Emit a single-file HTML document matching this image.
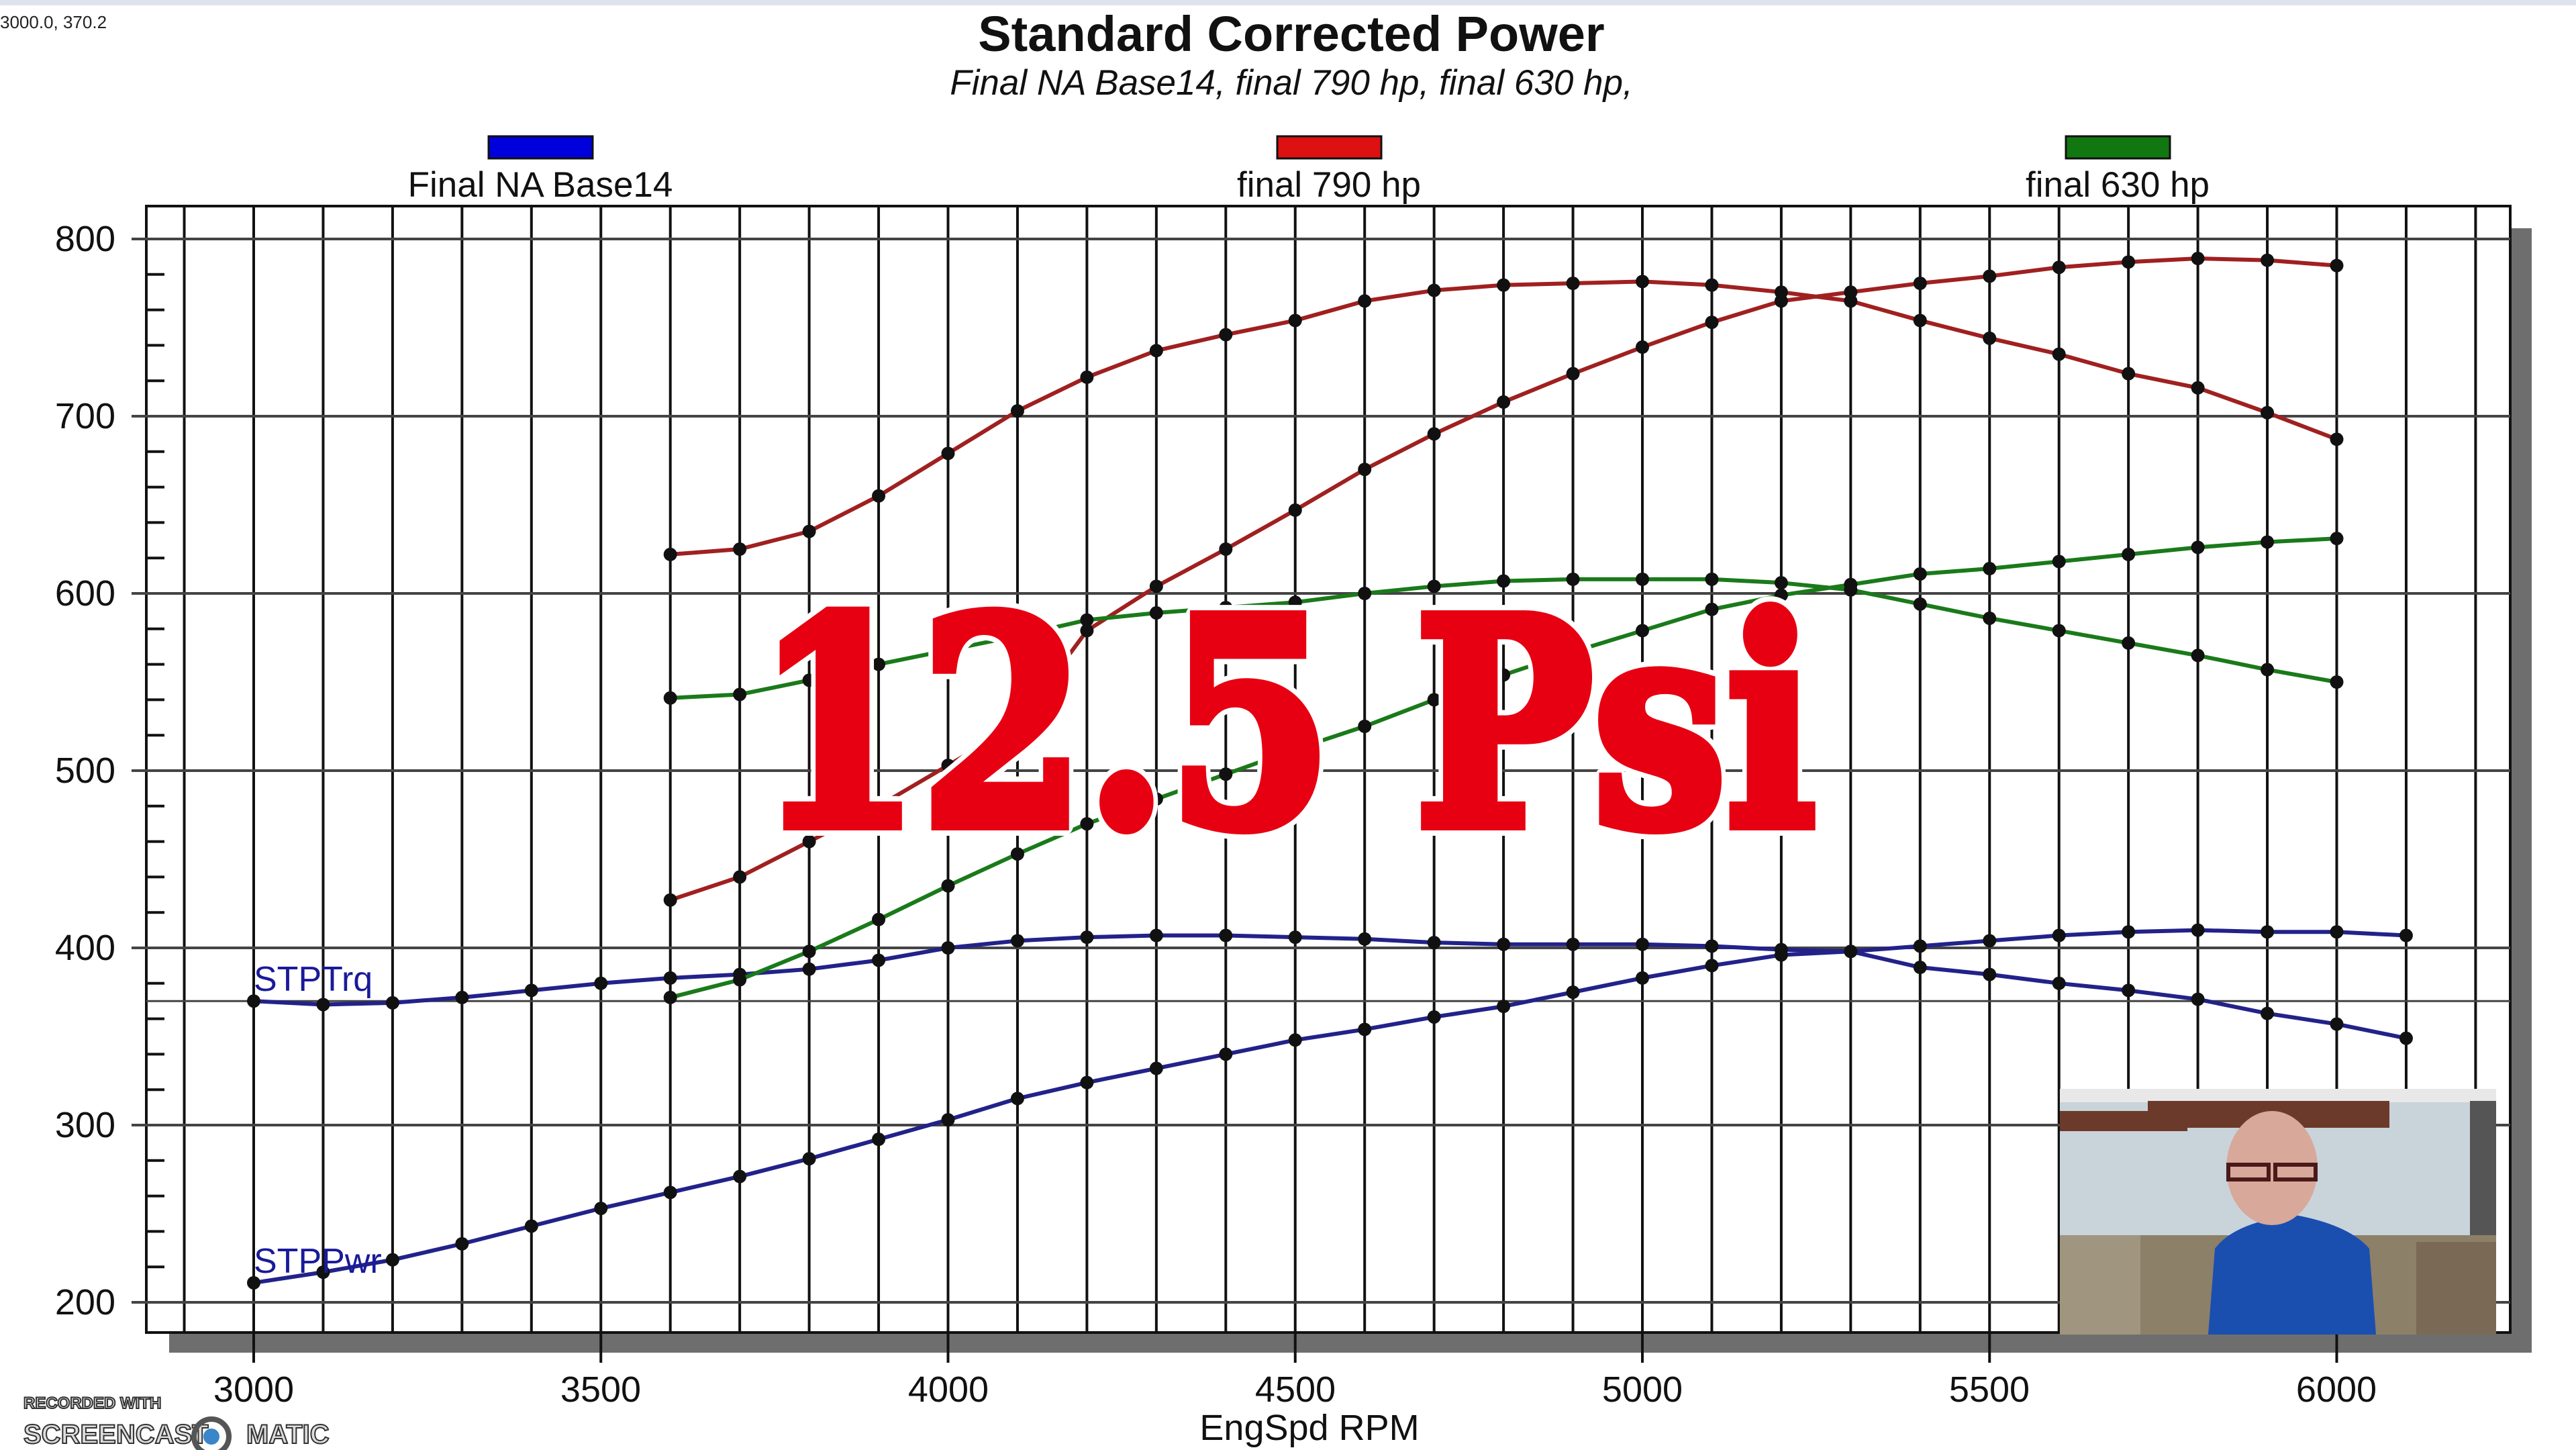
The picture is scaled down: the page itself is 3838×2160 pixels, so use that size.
<!DOCTYPE html>
<html><head><meta charset="utf-8"><style>
html,body{margin:0;padding:0;background:#fff;}
svg{display:block}
</style></head><body>
<svg id="s" width="3838" height="2160" viewBox="0 0 3838 2160" xmlns="http://www.w3.org/2000/svg" font-family="Liberation Sans, sans-serif">
<rect width="3838" height="2160" fill="#fff"/>
<rect x="0" y="0" width="3838" height="8" fill="#dfe3ee"/>
<text x="0" y="42" font-size="26" fill="#222">3000.0, 370.2</text>
<text x="1924" y="76" font-size="74" font-weight="bold" text-anchor="middle" fill="#111">Standard Corrected Power</text>
<text x="1924" y="141" font-size="53" font-style="italic" text-anchor="middle" fill="#111">Final NA Base14, final 790 hp, final 630 hp,</text>
<rect x="728" y="203" width="155" height="33" fill="#0000dd" stroke="#111" stroke-width="3"/>
<rect x="1903" y="203" width="155" height="33" fill="#dd1111" stroke="#111" stroke-width="3"/>
<rect x="3078" y="203" width="155" height="33" fill="#117711" stroke="#111" stroke-width="3"/>
<text x="805" y="293" font-size="53" text-anchor="middle" fill="#111">Final NA Base14</text>
<text x="1980" y="293" font-size="53" text-anchor="middle" fill="#111">final 790 hp</text>
<text x="3155" y="293" font-size="53" text-anchor="middle" fill="#111">final 630 hp</text>
<rect x="252" y="1985" width="3520" height="30" fill="#6e6e6e"/>
<rect x="3740" y="340" width="32" height="1675" fill="#6e6e6e"/>
<rect x="218" y="307" width="3522" height="1678" fill="#fff" stroke="#111" stroke-width="4"/>
<g id="grid" stroke="#111" stroke-width="4"></g>
<g font-size="54" fill="#111" text-anchor="end">
<text x="172" y="374">800</text><text x="172" y="638">700</text><text x="172" y="902">600</text>
<text x="172" y="1166">500</text><text x="172" y="1430">400</text><text x="172" y="1694">300</text><text x="172" y="1958">200</text>
</g>
<g font-size="54" fill="#111" text-anchor="middle">
<text x="378" y="2088">3000</text><text x="895" y="2088">3500</text><text x="1413" y="2088">4000</text>
<text x="1930" y="2088">4500</text><text x="2447" y="2088">5000</text><text x="2964" y="2088">5500</text><text x="3481" y="2088">6000</text>
<text x="1951" y="2145">EngSpd RPM</text>
</g>
<g id="series"></g>
<text x="378" y="1476" font-size="52" fill="#1a1a9a">STPTrq</text>
<text x="378" y="1896" font-size="52" fill="#1a1a9a">STPPwr</text>
<text x="1126" y="1228" font-size="425" font-weight="bold" font-family="DejaVu Serif, serif" fill="#fff" stroke="#fff" stroke-width="34" stroke-linejoin="round" textLength="1580" lengthAdjust="spacingAndGlyphs">12.5 Psi</text>
<text x="1126" y="1228" font-size="425" font-weight="bold" font-family="DejaVu Serif, serif" fill="#e60012" stroke="#e60012" stroke-width="18" stroke-linejoin="miter" textLength="1580" lengthAdjust="spacingAndGlyphs">12.5 Psi</text>
<g>
<rect x="3069" y="1622" width="650" height="366" fill="#c9d3da"/>
<rect x="3069" y="1622" width="650" height="20" fill="#e8e8e8"/>
<rect x="3069" y="1655" width="190" height="30" fill="#6b3a2a"/>
<rect x="3200" y="1640" width="360" height="40" fill="#6b3a2a"/>
<rect x="3680" y="1640" width="39" height="200" fill="#555"/>
<rect x="3069" y="1840" width="650" height="148" fill="#8d8068"/>
<rect x="3069" y="1840" width="120" height="148" fill="#a09680"/>
<rect x="3600" y="1850" width="119" height="138" fill="#7a6a55"/>
<path d="M3290 1988 L3300 1860 Q3330 1820 3420 1810 Q3500 1825 3530 1860 L3540 1988 Z" fill="#1a4fb0"/>
<ellipse cx="3385" cy="1740" rx="68" ry="85" fill="#d8a89a"/>
<rect x="3320" y="1735" width="60" height="22" fill="none" stroke="#4a1a1a" stroke-width="6"/>
<rect x="3390" y="1735" width="60" height="22" fill="none" stroke="#4a1a1a" stroke-width="6"/>
</g>
<g font-family="Liberation Sans, sans-serif" font-weight="bold" fill="#ddd" stroke="#333" stroke-width="2">
<text x="35" y="2098" font-size="24">RECORDED WITH</text>
<text x="35" y="2150" font-size="40">SCREENCAST</text>
<text x="367" y="2150" font-size="40">MATIC</text>
</g>
<circle cx="315" cy="2140" r="26" fill="none" stroke="#555" stroke-width="8"/>
<circle cx="315" cy="2140" r="12" fill="#3a86c8"/>
</svg>
<script>
var NS="http://www.w3.org/2000/svg";
function X(r){return 378+(r-3000)*1.0345;}
function Y(v){return 356+(800-v)*2.64;}
function el(t,a,p){var e=document.createElementNS(NS,t);for(var k in a)e.setAttribute(k,a[k]);p.appendChild(e);return e;}
var g=document.getElementById('grid');
for(var r=2900;r<=6200;r+=100){var x=X(r);el('line',{x1:x,y1:307,x2:x,y2:1985},g);}
for(var r=3000;r<=6000;r+=500){var x=X(r);el('line',{x1:x,y1:1985,x2:x,y2:2030},g);}
for(var v=200;v<=800;v+=100){var y=Y(v);el('line',{x1:196,y1:y,x2:3740,y2:y,stroke:'#444'},g);}
for(var v=200;v<=800;v+=20){if(v%100){var y=Y(v);el('line',{x1:220,y1:y,x2:245,y2:y},g);}}
el('line',{x1:218,y1:Y(370),x2:3740,y2:Y(370),stroke:'#444','stroke-width':3},g);
var S=document.getElementById('series');
function ser(start,vals,col){var pts=[];for(var i=0;i<vals.length;i++)pts.push(X(start+i*100)+','+Y(vals[i]));
el('polyline',{points:pts.join(' '),fill:'none',stroke:col,'stroke-width':6},S);
for(var i=0;i<vals.length;i++)el('circle',{cx:X(start+i*100),cy:Y(vals[i]),r:10,fill:'#111'},S);}
ser(3000,[370,368,369,372,376,380,383,385,388,393,400,404,406,407,407,406,405,403,402,402,402,401,399,398,389,385,380,376,371,363,357,349],'#22228a');
ser(3000,[211,217,224,233,243,253,262,271,281,292,303,315,324,332,340,348,354,361,367,375,383,390,396,398,401,404,407,409,410,409,409,407],'#22228a');
ser(3600,[622,625,635,655,679,703,722,737,746,754,765,771,774,775,776,774,770,765,754,744,735,724,716,702,687],'#a02020');
ser(3600,[427,440,460,480,503,526,579,604,625,647,670,690,708,724,739,753,765,770,775,779,784,787,789,788,785],'#a02020');
ser(3600,[541,543,551,560,568,576,585,589,592,595,600,604,607,608,608,608,606,602,594,586,579,572,565,557,550],'#1a7a1a');
ser(3600,[372,382,398,416,435,453,470,484,498,512,525,540,554,567,579,591,599,605,611,614,618,622,626,629,631],'#1a7a1a');
</script>
</body></html>
